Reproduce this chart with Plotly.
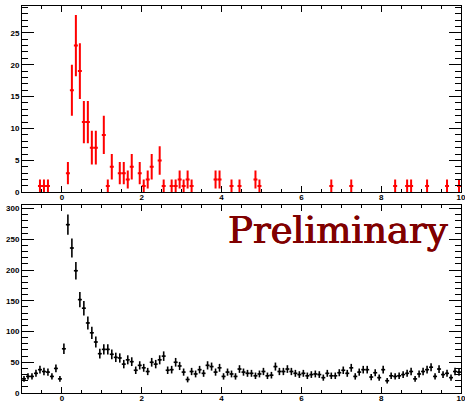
import numpy as np
import plotly.graph_objects as go

# ---- data ----
bin_width = 0.1
x_low, x_high = -1.0, 10.0

# upper panel: non-empty bins only (bin centre, counts)
top_centers = [-0.55, -0.45, -0.35, 0.15, 0.25, 0.35, 0.45, 0.55, 0.65, 0.75, 0.85,
               1.05, 1.15, 1.25, 1.45, 1.55, 1.65, 1.75, 1.95, 2.05, 2.15, 2.25,
               2.45, 2.55, 2.75, 2.85, 2.95, 3.05, 3.15, 3.25, 3.85, 3.95, 4.25,
               4.45, 4.85, 4.95, 6.75, 7.25, 8.35, 8.65, 8.75, 9.15, 9.65, 9.95]
top_counts = [1, 1, 1, 3, 16, 23, 19, 11, 11, 7, 7,
              9, 1, 4, 3, 3, 2, 4, 3, 1, 2, 4,
              5, 1, 1, 1, 2, 1, 2, 1, 2, 2, 1,
              1, 2, 1, 1, 1, 1, 1, 1, 1, 1, 1]

# lower panel: every bin from -1 to 10
bottom_counts = [23, 27, 27, 32, 38, 35, 34, 27, 40, 23,
                 72, 274, 236, 199, 152, 138, 114, 98, 83, 64,
                 71, 71, 63, 58, 57, 47, 54, 51, 37, 45,
                 41, 35, 50, 47, 54, 60, 37, 38, 50, 44,
                 34, 22, 35, 31, 38, 32, 45, 43, 34, 41,
                 27, 34, 31, 27, 39, 34, 32, 32, 28, 31,
                 35, 28, 29, 43, 35, 35, 39, 35, 32, 30,
                 32, 28, 30, 31, 30, 25, 32, 28, 28, 33,
                 37, 32, 41, 27, 34, 38, 38, 26, 33, 25,
                 38, 20, 28, 27, 28, 30, 32, 35, 23, 31,
                 35, 38, 42, 27, 39, 30, 32, 25, 35, 34]
bottom_centers = [round(x_low + bin_width * (i + 0.5), 3) for i in range(len(bottom_counts))]

x_ticks = [0, 2, 4, 6, 8, 10]

fig = go.Figure()

fig.add_trace(go.Scatter(
    x=top_centers, y=top_counts, mode="markers",
    marker=dict(size=2, color="#ff0000"),
    error_x=dict(type="constant", value=bin_width / 2, width=0, thickness=2, color="#ff0000"),
    error_y=dict(type="data", array=np.sqrt(top_counts), width=0, thickness=2, color="#ff0000"),
    xaxis="x", yaxis="y", showlegend=False, hoverinfo="x+y"))

fig.add_trace(go.Scatter(
    x=bottom_centers, y=bottom_counts, mode="markers",
    marker=dict(size=2, color="black"),
    error_x=dict(type="constant", value=bin_width / 2, width=0, thickness=1.6, color="black"),
    error_y=dict(type="data", array=np.sqrt(bottom_counts), width=0, thickness=1.6, color="black"),
    xaxis="x2", yaxis="y2", showlegend=False, hoverinfo="x+y"))

tickfont = dict(family="Liberation Sans, Arial, sans-serif", size=8, color="black", weight="bold")
common = dict(showline=True, linecolor="black", linewidth=1, mirror="allticks",
              ticks="inside", tickcolor="black", tickwidth=1, showgrid=False,
              zeroline=False, tickfont=tickfont, automargin=False, ticklabeloverflow="allow")

xcommon = dict(common, range=[x_low, x_high], tickvals=x_ticks, ticklen=6, ticklabelstandoff=-3,
               minor=dict(dtick=0.5, tick0=0, ticklen=3, ticks="inside", tickcolor="black", showgrid=False))

fig.update_layout(
    template="none",
    width=465, height=403,
    margin=dict(l=22, r=4, t=6, b=10),
    paper_bgcolor="white", plot_bgcolor="white",
    xaxis=dict(xcommon, domain=[0, 1], anchor="y"),
    yaxis=dict(common, domain=[0.5186, 1.0], anchor="x", range=[0, 29.2], dtick=5, tick0=0,
               ticklen=12, minor=dict(dtick=1, tick0=0, ticklen=6, ticks="inside", tickcolor="black", showgrid=False)),
    xaxis2=dict(xcommon, domain=[0, 1], anchor="y2"),
    yaxis2=dict(common, domain=[0.0, 0.4858], anchor="x2", range=[0, 306], dtick=50, tick0=0,
                ticklen=12, minor=dict(dtick=10, tick0=0, ticklen=6, ticks="inside", tickcolor="black", showgrid=False)),
    annotations=[dict(text="Preliminary", xref="paper", yref="paper", x=0.975, y=0.421,
                      xanchor="right", yanchor="middle", showarrow=False,
                      font=dict(family="DejaVu Serif", size=37, color="#800000",
                                shadow="0.6px 0px 0px #800000, -0.4px 0px 0px #800000"))],
)

fig.write_html("out.html")
